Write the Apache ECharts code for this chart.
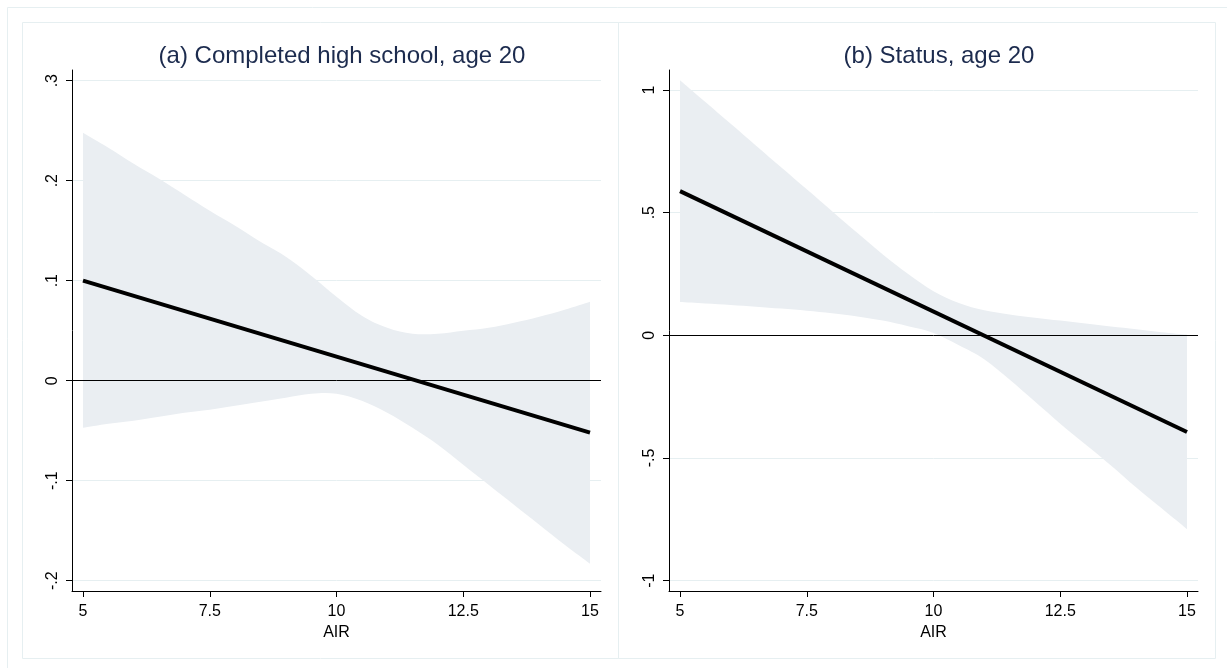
<!DOCTYPE html>
<html>
<head>
<meta charset="utf-8">
<script src="https://cdn.jsdelivr.net/npm/echarts@6/dist/echarts.min.js"></script>
<style>
html,body{margin:0;padding:0;background:#ffffff;}
#chart{width:1227px;height:668px;}
</style>
</head>
<body>
<div id="chart"></div>
<script>
// ---- data ----
const xGrid = [5,5.5,6,6.5,7,7.5,8,8.5,9,9.5,10,10.5,11,11.5,12,12.5,13,13.5,14,14.5,15];
const xTicks = [5,7.5,10,12.5,15];

// Panel (a): Completed high school, age 20
const aTitle = '(a) Completed high school, age 20';
const aLineX = [5,15];
const aLineY = [0.100,-0.052];
const aUpper = [0.248,0.233,0.217,0.202,0.186,0.170,0.155,0.139,0.124,0.105,0.084,0.065,0.053,0.047,0.047,0.050,0.053,0.058,0.064,0.071,0.079];
const aLower = [-0.047,-0.043,-0.040,-0.036,-0.032,-0.029,-0.025,-0.021,-0.017,-0.013,-0.013,-0.020,-0.032,-0.047,-0.064,-0.084,-0.104,-0.124,-0.144,-0.164,-0.183];
const aYTicks = [-0.2,-0.1,0,0.1,0.2,0.3];

// Panel (b): Status, age 20
const bTitle = '(b) Status, age 20';
const bLineX = [5,15];
const bLineY = [0.588,-0.394];
const bUpper = [1.040,0.951,0.862,0.773,0.684,0.595,0.506,0.417,0.330,0.250,0.180,0.132,0.102,0.085,0.072,0.060,0.048,0.036,0.025,0.013,0.003];
const bLower = [0.136,0.130,0.124,0.117,0.109,0.100,0.090,0.077,0.060,0.037,0.010,-0.040,-0.097,-0.180,-0.270,-0.360,-0.445,-0.530,-0.620,-0.705,-0.790];
const bYTicks = [-1,-0.5,0,0.5,1];

const xName = 'AIR';

// ---- helpers ----
function stataFmt(v){
  if (Math.abs(v) < 1e-9) return '0';
  let s = String(Math.round(v*1000)/1000);
  s = s.replace(/^0\./,'.').replace(/^-0\./,'-.');
  return s;
}
const FONT = 'Liberation Sans, Arial, sans-serif';
const gridColor = '#e6eff1';
const bandColor = '#eaeef2';

function xAxisDef(gi){
  return {
    type:'value', gridIndex:gi, min:4.783, max:15.217,
    name:xName, nameLocation:'middle', nameGap:31,
    nameTextStyle:{color:'#000', fontSize:16, fontFamily:FONT},
    axisLine:{show:true, onZero:false, lineStyle:{color:'#000', width:1}},
    axisTick:{show:true, customValues:xTicks, length:6, lineStyle:{color:'#000'}},
    axisLabel:{show:true, customValues:xTicks, color:'#000', fontSize:16, fontFamily:FONT, margin:13, formatter:v=>String(v)},
    splitLine:{show:false}
  };
}
function yAxisDef(gi, min, max, ticks){
  return {
    type:'value', gridIndex:gi, min:min, max:max,
    axisLine:{show:true, onZero:false, lineStyle:{color:'#000', width:1}},
    axisTick:{show:true, customValues:ticks, length:6, lineStyle:{color:'#000'}},
    axisLabel:{show:true, customValues:ticks, rotate:90, color:'#000', fontSize:16, fontFamily:FONT, margin:11, formatter:v=>stataFmt(v)},
    splitLine:{show:true, lineStyle:{color:gridColor, width:1}}
  };
}
function pairs(xs, ys){ return xs.map((x,i)=>[x, ys[i]]); }

// Catmull-Rom style smoothing of a pixel polyline (rendering only)
function smoothSeg(pts, start){
  let d = start ? ('M' + pts[0][0] + ' ' + pts[0][1]) : ('L' + pts[0][0] + ' ' + pts[0][1]);
  const t = 0.18;
  for (let i=0;i<pts.length-1;i++){
    const p0 = pts[i-1] || pts[i], p1 = pts[i], p2 = pts[i+1], p3 = pts[i+2] || pts[i+1];
    const c1 = [p1[0] + (p2[0]-p0[0])*t, p1[1] + (p2[1]-p0[1])*t];
    const c2 = [p2[0] - (p3[0]-p1[0])*t, p2[1] - (p3[1]-p1[1])*t];
    d += ' C' + c1[0] + ' ' + c1[1] + ' ' + c2[0] + ' ' + c2[1] + ' ' + p2[0] + ' ' + p2[1];
  }
  return d;
}
function bandSeries(gi, upper, lower){
  const data = xGrid.map((x,i)=>[x, lower[i], upper[i]]);
  return {
    type:'custom', xAxisIndex:gi, yAxisIndex:gi, data:data, silent:true, z:1, clip:true,
    encode:{x:0, y:[1,2]},
    renderItem:function(params, api){
      if (params.dataIndex !== 0) return null;
      const up = data.map(d=>api.coord([d[0], d[2]]));
      const lo = data.map(d=>api.coord([d[0], d[1]])).reverse();
      const path = smoothSeg(up, true) + ' ' + smoothSeg(lo, false) + ' Z';
      return {type:'path', shape:{pathData:path}, style:{fill:bandColor, stroke:null}};
    }
  };
}
function lineSeries(gi, xs, ys){
  return {type:'line', xAxisIndex:gi, yAxisIndex:gi, data:pairs(xs, ys), symbol:'none',
    lineStyle:{color:'#000', width:4}, z:5,
    markLine:{silent:true, symbol:'none', label:{show:false}, lineStyle:{color:'#000', width:1, type:'solid'},
      data:[{yAxis:0}], animation:false}};
}

const chart = echarts.init(document.getElementById('chart'), null, {renderer:'canvas'});
chart.setOption({
  animation:false,
  backgroundColor:'#ffffff',
  title:[
    {text:aTitle, left:337, top:39, textAlign:'center', textStyle:{color:'#1c2b4e', fontSize:24, fontWeight:'normal', fontFamily:FONT}},
    {text:bTitle, left:934, top:39, textAlign:'center', textStyle:{color:'#1c2b4e', fontSize:24, fontWeight:'normal', fontFamily:FONT}}
  ],
  graphic:[
    {type:'rect', shape:{x:7.5, y:7.5, width:1240, height:700}, style:{fill:'none', stroke:'#e6eff1', lineWidth:1}, silent:true, z:-1},
    {type:'rect', shape:{x:22.5, y:22.5, width:596, height:636}, style:{fill:'none', stroke:'#e6eff1', lineWidth:1}, silent:true, z:-1},
    {type:'rect', shape:{x:618.5, y:22.5, width:597, height:636}, style:{fill:'none', stroke:'#e6eff1', lineWidth:1}, silent:true, z:-1}
  ],
  grid:[
    {left:72, top:70, width:529, height:521, containLabel:false},
    {left:669, top:70, width:529, height:521, containLabel:false}
  ],
  xAxis:[xAxisDef(0), xAxisDef(1)],
  yAxis:[yAxisDef(0,-0.2103,0.3107,aYTicks), yAxisDef(1,-1.042,1.0815,bYTicks)],
  series:[
    bandSeries(0, aUpper, aLower),
    lineSeries(0, aLineX, aLineY),
    bandSeries(1, bUpper, bLower),
    lineSeries(1, bLineX, bLineY)
  ]
});
</script>
</body>
</html>
